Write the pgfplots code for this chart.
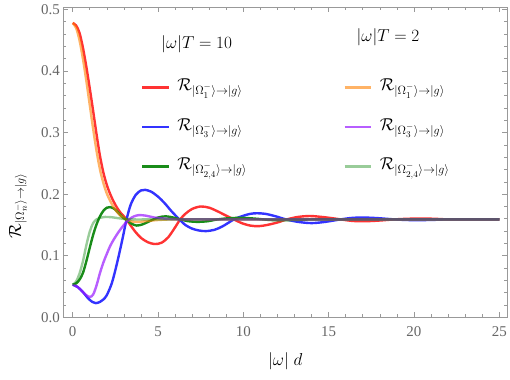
\documentclass[border=0pt]{standalone}
\usepackage{fontspec}
\setmainfont{Liberation Serif}
\usepackage{pgfplots}
\pgfplotsset{compat=1.18}
\usetikzlibrary{calc}
\definecolor{cRed}{rgb}{1,0.2,0.2}
\definecolor{cBlue}{rgb}{0.2,0.2,1}
\definecolor{cGreen}{rgb}{0.1,0.55,0.1}
\definecolor{cOrange}{rgb}{1,0.5,0}
\definecolor{cPurple}{rgb}{0.6,0.1,1}
\definecolor{cLGreen}{rgb}{0,0.5,0}
\definecolor{frameGray}{gray}{0.6}
\definecolor{labelGray}{gray}{0.4}
\begin{document}
\begin{tikzpicture}
\begin{axis}[
  scale only axis, width=444bp, height=310bp,
  xmin=-0.55, xmax=25.47, ymin=0, ymax=0.5035,
  xtick={0,5,10,15,20,25}, ytick={0,0.1,0.2,0.3,0.4,0.5},
  minor x tick num=4, minor y tick num=4,
  tick align=inside, tick pos=both,
  major tick length=5bp, minor tick length=3bp,
  axis line style={frameGray, line width=0.8bp},
  every tick/.style={frameGray, line width=0.6bp},
  /pgf/number format/assume math mode=true,
  tick label style={font=\fontsize{15}{15}\selectfont, text=labelGray},
  xticklabel style={yshift=-6bp},
  yticklabel style={/pgf/number format/.cd, fixed, fixed zerofill, precision=1},
  xlabel={$|\omega|\;d$},
  ylabel={$\mathcal{R}_{|\Omega_n^-\rangle\to|g\rangle}$},
  label style={font=\fontsize{17}{17}\selectfont},
  xlabel style={yshift=-9bp},
  every axis y label/.style={at={(rel axis cs:-0.0743,0.36)}, rotate=90, anchor=south, font=\fontsize{18}{18}\selectfont},
  legend columns=2,
  legend cell align=left,
  legend image code/.code={\draw[#1,line cap=butt] (0bp,0bp) -- (26.6bp,0bp); \path (34bp,0bp);},
  legend style={draw=none, fill=none, inner sep=0pt, column sep=0pt, row sep=21.5bp,
    nodes={inner sep=0pt, text height=12bp, text depth=6bp, font=\fontsize{17.5}{17.5}\selectfont},
    at={(axis cs:3.99,0.309)}, anchor=west},
]
\addlegendimage{cRed, line width=2.4bp}
\addlegendentry{\makebox[166bp][l]{$\mathcal{R}_{|\Omega_1^-\rangle\to|g\rangle}$}}
\addlegendimage{cOrange, opacity=0.6, line width=2.4bp}
\addlegendentry{\makebox[100bp][l]{$\mathcal{R}_{|\Omega_1^-\rangle\to|g\rangle}$}}
\addlegendimage{cBlue, line width=2.4bp}
\addlegendentry{\makebox[166bp][l]{$\mathcal{R}_{|\Omega_3^-\rangle\to|g\rangle}$}}
\addlegendimage{cPurple, opacity=0.7, line width=2.4bp}
\addlegendentry{\makebox[100bp][l]{$\mathcal{R}_{|\Omega_3^-\rangle\to|g\rangle}$}}
\addlegendimage{cGreen, line width=2.4bp}
\addlegendentry{\makebox[166bp][l]{$\mathcal{R}_{|\Omega_{2,4}^-\rangle\to|g\rangle}$}}
\addlegendimage{cLGreen, opacity=0.4, line width=2.4bp}
\addlegendentry{\makebox[100bp][l]{$\mathcal{R}_{|\Omega_{2,4}^-\rangle\to|g\rangle}$}}

% |omega|T = 10
\addplot[cRed, line width=2.4bp, smooth, no marks, forget plot] coordinates {
(0,0.478)(0.2,0.474)(0.4,0.462)(0.6,0.438)(0.8,0.407)(1.0,0.372)(1.2,0.335)(1.4,0.297)(1.6,0.262)(1.8,0.235)(2.0,0.215)(2.2,0.200)(2.4,0.188)(2.6,0.178)(2.8,0.170)(3.0,0.164)(3.2,0.157)(3.4,0.149)(3.7,0.138)(4.0,0.129)(4.4,0.122)(4.8,0.119)(5.2,0.121)(5.6,0.130)(6.0,0.146)(6.3,0.159)(6.6,0.168)(7.0,0.176)(7.5,0.180)(8.0,0.178)(8.5,0.172)(9.0,0.165)(9.45,0.159)(9.9,0.153)(10.4,0.149)(10.9,0.148)(11.4,0.150)(12.0,0.154)(12.55,0.159)(13.2,0.163)(13.9,0.1645)(14.6,0.163)(15.2,0.161)(15.7,0.159)(16.4,0.1565)(17.1,0.156)(17.9,0.157)(18.85,0.159)(19.6,0.160)(20.4,0.1605)(21.2,0.160)(22,0.159)(23,0.1588)(24,0.159)(25,0.159)};
\addplot[cBlue, line width=2.4bp, smooth, no marks, forget plot] coordinates {
(0,0.053)(0.3,0.049)(0.6,0.041)(0.9,0.031)(1.15,0.025)(1.35,0.023)(1.6,0.025)(1.8,0.029)(2.0,0.036)(2.3,0.056)(2.6,0.088)(2.9,0.125)(3.15,0.158)(3.4,0.183)(3.7,0.199)(4.0,0.206)(4.25,0.207)(4.6,0.204)(5.0,0.196)(5.4,0.185)(5.8,0.172)(6.25,0.159)(6.6,0.150)(7.0,0.144)(7.4,0.141)(7.8,0.140)(8.3,0.142)(8.8,0.148)(9.45,0.159)(9.9,0.164)(10.4,0.168)(10.8,0.169)(11.3,0.168)(11.9,0.164)(12.5,0.159)(13.2,0.155)(14.0,0.153)(14.8,0.155)(15.7,0.159)(16.4,0.1615)(17.1,0.162)(17.9,0.161)(18.85,0.159)(19.6,0.158)(20.4,0.1578)(21.2,0.1583)(22,0.159)(23,0.159)(25,0.159)};
\addplot[cGreen, line width=2.4bp, smooth, no marks, forget plot] coordinates {
(0,0.053)(0.2,0.055)(0.4,0.061)(0.6,0.072)(0.8,0.091)(1.0,0.113)(1.2,0.134)(1.4,0.151)(1.6,0.164)(1.8,0.173)(2.0,0.178)(2.2,0.179)(2.4,0.177)(2.6,0.172)(2.8,0.166)(3.0,0.161)(3.2,0.157)(3.45,0.152)(3.75,0.149)(4.1,0.151)(4.5,0.156)(5.0,0.162)(5.45,0.164)(5.9,0.162)(6.3,0.159)(6.8,0.156)(7.3,0.155)(7.9,0.156)(8.5,0.159)(9.2,0.161)(10,0.1615)(10.8,0.160)(11.6,0.158)(12.5,0.1578)(13.5,0.1585)(14.5,0.159)(20,0.159)(25,0.159)};
% |omega|T = 2
\addplot[cOrange, opacity=0.6, line width=2.4bp, smooth, no marks, forget plot] coordinates {
(0,0.478)(0.2,0.470)(0.4,0.450)(0.6,0.420)(0.8,0.384)(1.0,0.345)(1.2,0.306)(1.4,0.270)(1.6,0.240)(1.8,0.218)(2.0,0.201)(2.2,0.189)(2.4,0.179)(2.6,0.171)(2.8,0.165)(3.0,0.161)(3.2,0.158)(3.5,0.1555)(3.9,0.155)(4.4,0.1565)(5.0,0.158)(5.8,0.159)(7,0.159)(10,0.159)(15,0.159)(20,0.159)(25,0.159)};
\addplot[cPurple, opacity=0.7, line width=2.4bp, smooth, no marks, forget plot] coordinates {
(0,0.053)(0.25,0.050)(0.5,0.044)(0.75,0.037)(1.0,0.033)(1.2,0.037)(1.4,0.052)(1.6,0.072)(1.8,0.089)(2.0,0.103)(2.2,0.116)(2.4,0.126)(2.7,0.139)(3.0,0.150)(3.3,0.159)(3.6,0.164)(3.9,0.166)(4.3,0.165)(4.8,0.162)(5.5,0.160)(6.5,0.159)(10,0.159)(15,0.159)(20,0.159)(25,0.159)};
\addplot[cLGreen, opacity=0.4, line width=2.4bp, smooth, no marks, forget plot] coordinates {
(0,0.053)(0.2,0.058)(0.4,0.071)(0.6,0.091)(0.8,0.117)(1.0,0.139)(1.2,0.153)(1.4,0.159)(1.6,0.1615)(1.9,0.163)(2.3,0.1625)(2.8,0.1605)(3.5,0.159)(5,0.159)(10,0.159)(15,0.159)(20,0.159)(25,0.159)};

\node[font=\fontsize{17}{17}\selectfont] at (axis cs:7.27,0.444) {$|\omega|T=10$};
\node[font=\fontsize{17}{17}\selectfont] at (axis cs:18.48,0.455) {$|\omega|T=2$};
\end{axis}
\pgfresetboundingbox
\path ($(current axis.south west)+(-63.3bp,-62.7bp)$) rectangle ($(current axis.north east)+(2.7bp,7.3bp)$);
\end{tikzpicture}
\end{document}
